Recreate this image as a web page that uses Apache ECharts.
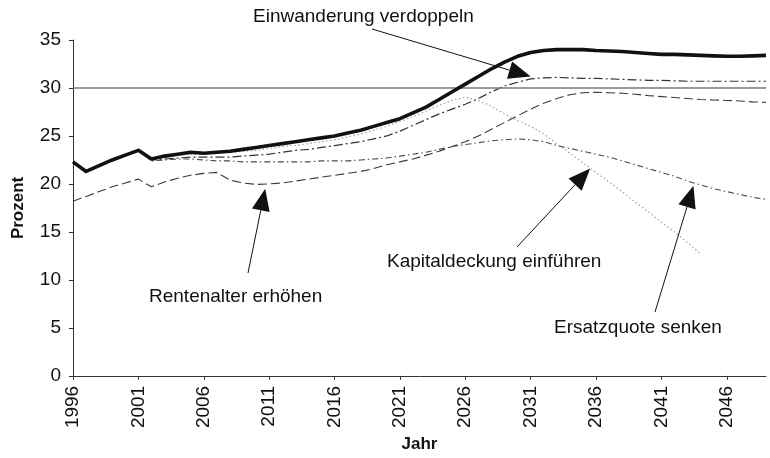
<!DOCTYPE html>
<html>
<head>
<meta charset="utf-8">
<script src="https://cdn.jsdelivr.net/npm/echarts@6/dist/echarts.min.js"></script>
<style>
  html, body { margin: 0; padding: 0; background: #fff; }
  #chart { width: 770px; height: 458px; }
</style>
</head>
<body>
<div id="chart"></div>
<script>
// Beitragssatz in Prozent, 1996–2049, je Szenario
const years = [
  '1996','1997','1998','1999','2000','2001','2002','2003','2004','2005',
  '2006','2007','2008','2009','2010','2011','2012','2013','2014','2015',
  '2016','2017','2018','2019','2020','2021','2022','2023','2024','2025',
  '2026','2027','2028','2029','2030','2031','2032','2033','2034','2035',
  '2036','2037','2038','2039','2040','2041','2042','2043','2044','2045',
  '2046','2047','2048','2049'
];

const statusQuo = [
  22.3, 21.3, 21.9, 22.5, 23.0, 23.5, 22.6, 22.9, 23.1, 23.3,
  23.2, 23.3, 23.4, 23.6, 23.8, 24.0, 24.2, 24.4, 24.6, 24.8,
  25.0, 25.3, 25.6, 26.0, 26.4, 26.8, 27.4, 28.0, 28.8, 29.6,
  30.4, 31.2, 32.0, 32.7, 33.3, 33.7, 33.9, 34.0, 34.0, 34.0,
  33.9, 33.85, 33.8, 33.7, 33.6, 33.5, 33.5, 33.45, 33.4, 33.35,
  33.3, 33.3, 33.35, 33.4
];

const einwanderung = [
  22.3, 21.3, 21.9, 22.5, 23.0, 23.5, 22.5, 22.6, 22.7, 22.8,
  22.8, 22.8, 22.8, 22.9, 23.0, 23.1, 23.3, 23.5, 23.6, 23.8,
  24.0, 24.2, 24.4, 24.7, 25.0, 25.5, 26.1, 26.7, 27.3, 27.8,
  28.3, 28.9, 29.6, 30.2, 30.6, 30.95, 31.05, 31.1, 31.05, 31.0,
  31.0, 30.95, 30.9, 30.85, 30.8, 30.8, 30.75, 30.7, 30.7, 30.7,
  30.7, 30.7, 30.7, 30.7
];

const kapitaldeckung = [
  22.3, 21.3, 21.9, 22.5, 23.0, 23.5, 22.6, 22.8, 23.0, 23.1,
  23.1, 23.2, 23.3, 23.4, 23.5, 23.7, 23.9, 24.0, 24.2, 24.4,
  24.6, 24.9, 25.2, 25.6, 26.0, 26.5, 27.0, 27.6, 28.2, 28.7,
  29.05, 28.7, 28.1, 27.3, 26.6, 26.0, 25.2, 24.2, 23.2, 22.2,
  21.2, 20.2, 19.2, 18.1, 17.1, 16.0, 15.0, 13.9, 12.7, null,
  null, null, null, null
];

const ersatzquote = [
  22.3, 21.3, 21.9, 22.5, 23.0, 23.5, 22.4, 22.5, 22.6, 22.6,
  22.5, 22.4, 22.4, 22.3, 22.3, 22.3, 22.3, 22.3, 22.3, 22.4,
  22.4, 22.4, 22.5, 22.6, 22.7, 22.9, 23.1, 23.3, 23.6, 23.9,
  24.1, 24.3, 24.5, 24.6, 24.7, 24.6, 24.4, 24.0, 23.7, 23.4,
  23.1, 22.8, 22.4, 22.0, 21.6, 21.2, 20.8, 20.3, 19.9, 19.5,
  19.2, 18.9, 18.6, 18.4
];

const rentenalter = [
  18.2, 18.7, 19.2, 19.7, 20.1, 20.5, 19.7, 20.2, 20.6, 20.9,
  21.1, 21.2, 20.4, 20.1, 19.95, 20.0, 20.1, 20.3, 20.5, 20.7,
  20.9, 21.1, 21.3, 21.6, 22.0, 22.3, 22.6, 23.0, 23.4, 23.9,
  24.4, 25.0, 25.7, 26.4, 27.1, 27.8, 28.4, 28.9, 29.3, 29.5,
  29.55, 29.5, 29.45, 29.35, 29.2, 29.1, 29.0, 28.9, 28.8, 28.75,
  28.7, 28.65, 28.55, 28.5
];

const limitLevel = 30;

const FONT = '"Liberation Sans", Arial, Helvetica, sans-serif';

const chart = echarts.init(document.getElementById('chart'), null, { renderer: 'canvas' });

function thinLine(name, data, color, dash, width) {
  return {
    name: name,
    type: 'line',
    data: data,
    symbol: 'none',
    smooth: false,
    silent: true,
    lineStyle: { color: color, width: width, type: dash },
    z: 2
  };
}

const option = {
  animation: false,
  backgroundColor: '#ffffff',
  textStyle: { fontFamily: FONT },
  grid: { left: 73, right: 4, top: 40, bottom: 81, containLabel: false },
  xAxis: {
    type: 'category',
    data: years,
    boundaryGap: false,
    name: 'Jahr',
    nameLocation: 'middle',
    nameGap: 56,
    nameTextStyle: { fontFamily: FONT, fontSize: 17, fontWeight: 'bold', color: '#111' },
    axisLine: { lineStyle: { color: '#333', width: 1 } },
    axisTick: { show: true, interval: 4, length: 4, lineStyle: { color: '#333' } },
    axisLabel: {
      interval: 4, rotate: 90, margin: 10,
      fontFamily: FONT, fontSize: 19, color: '#111'
    },
    splitLine: { show: false }
  },
  yAxis: {
    type: 'value',
    min: 0, max: 35, interval: 5,
    name: 'Prozent',
    nameLocation: 'middle',
    nameGap: 46,
    nameTextStyle: { fontFamily: FONT, fontSize: 17, fontWeight: 'bold', color: '#111' },
    axisLine: { show: true, lineStyle: { color: '#333', width: 1 } },
    axisTick: { show: true, length: 4, lineStyle: { color: '#333' } },
    axisLabel: { margin: 12, fontFamily: FONT, fontSize: 19, color: '#111' },
    splitLine: { show: false }
  },
  series: [
    Object.assign(thinLine('Rentenalter erhöhen', rentenalter, '#3a3a3a', [9, 4], 1.1), {
      markLine: {
        silent: true,
        symbol: 'none',
        label: { show: false },
        lineStyle: { color: '#7a7a7a', width: 1.6, type: 'solid' },
        data: [{ yAxis: limitLevel }]
      }
    }),
    thinLine('Ersatzquote senken', ersatzquote, '#4a4a4a', [6, 3, 1.5, 3], 1.1),
    thinLine('Kapitaldeckung einführen', kapitaldeckung, '#999999', [1.5, 2.5], 1.1),
    thinLine('Einwanderung verdoppeln', einwanderung, '#333', [9, 3, 2, 3], 1.2),
    {
      name: 'Status quo',
      type: 'line',
      data: statusQuo,
      symbol: 'none',
      silent: true,
      lineStyle: { color: '#111', width: 3.6, type: 'solid', join: 'round' },
      z: 5
    }
  ]
};

chart.setOption(option);

// Pixel position of a (fractional) year and a value on the grid
function toPx(year, value) {
  const idx = year - 1996;
  const i0 = Math.max(0, Math.min(years.length - 2, Math.floor(idx)));
  const a = chart.convertToPixel({ gridIndex: 0 }, [i0, value]);
  const b = chart.convertToPixel({ gridIndex: 0 }, [i0 + 1, value]);
  return [a[0] + (b[0] - a[0]) * (idx - i0), a[1]];
}

// Annotation: text label plus an arrow from the label to a point on a curve
const notes = [
  { text: 'Einwanderung verdoppeln', textX: 253, textY: 17, tail: [372, 29], at: [2031.0, 31.2] },
  { text: 'Rentenalter erhöhen', textX: 149, textY: 297, tail: [248, 273], at: [2010.7, 19.5] },
  { text: 'Kapitaldeckung einführen', textX: 387, textY: 262, tail: [517, 247], at: [2035.55, 21.6] },
  { text: 'Ersatzquote senken', textX: 554, textY: 328, tail: [655, 312], at: [2043.45, 19.8] }
];

const graphics = [];
notes.forEach(function (n) {
  const tip = toPx(n.at[0], n.at[1]);
  const dx = tip[0] - n.tail[0];
  const dy = tip[1] - n.tail[1];
  const len = Math.sqrt(dx * dx + dy * dy);
  const ux = dx / len, uy = dy / len;
  const headLen = 22, headHalf = 9;
  const bx = tip[0] - ux * headLen, by = tip[1] - uy * headLen;
  const nx = -uy, ny = ux;
  graphics.push({
    type: 'line', silent: true, z: 20,
    shape: { x1: n.tail[0], y1: n.tail[1], x2: bx, y2: by },
    style: { stroke: '#111', lineWidth: 1 }
  });
  graphics.push({
    type: 'polygon', silent: true, z: 20,
    shape: { points: [tip, [bx + nx * headHalf, by + ny * headHalf], [bx - nx * headHalf, by - ny * headHalf]] },
    style: { fill: '#111' }
  });
  graphics.push({
    type: 'text', silent: true, z: 21,
    style: {
      text: n.text, x: n.textX, y: n.textY,
      font: '19px ' + FONT, fill: '#111',
      align: 'left', verticalAlign: 'middle'
    }
  });
});

chart.setOption({ graphic: graphics });
</script>
</body>
</html>
